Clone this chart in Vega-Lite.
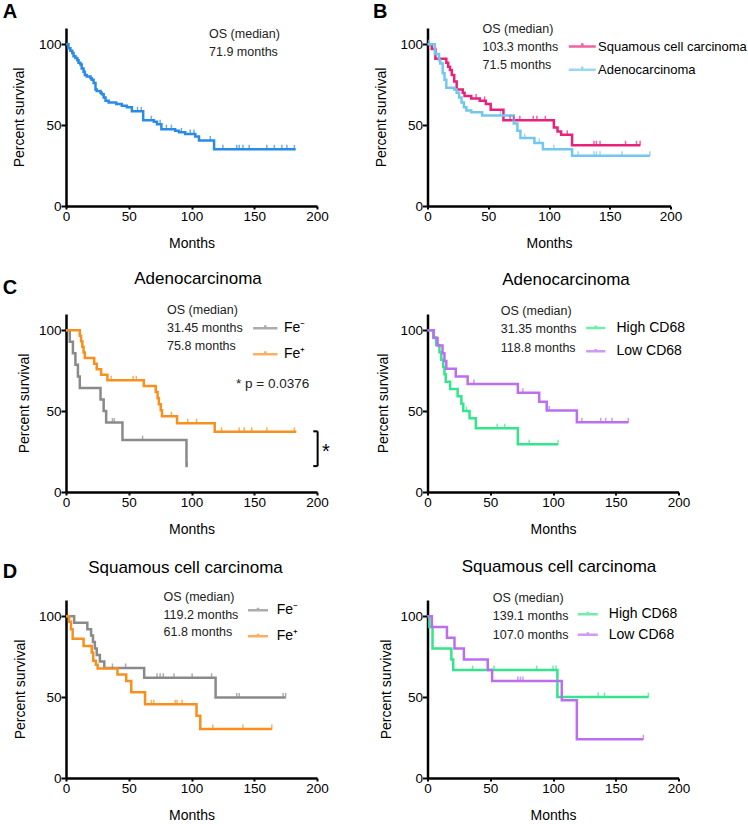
{
  "$schema": "https://vega.github.io/schema/vega-lite/v6.json",
  "background": "white",
  "padding": {"left": 2, "top": 2, "right": 2, "bottom": 2},
  "columns": 2,
  "spacing": {"row": 108, "column": 110.5},
  "bounds": "flush",
  "resolve": {"scale": {"color": "independent", "x": "independent", "y": "independent"}, "legend": {"color": "independent"}},
  "datasets": {
    "a_line": [
      {"m":0,"s":100},{"m":2,"s":97.5},{"m":3.5,"s":96},{"m":5,"s":94.5},{"m":6,"s":92.5},{"m":7.5,"s":91.5},{"m":9,"s":90},{"m":10,"s":88.5},{"m":11.5,"s":87.5},{"m":12.5,"s":85},{"m":14,"s":83},{"m":15,"s":81},{"m":16.5,"s":80},{"m":19.5,"s":79},{"m":20.5,"s":78},{"m":22,"s":76},{"m":23.5,"s":72},{"m":24.5,"s":71},{"m":27.5,"s":70},{"m":28.5,"s":69},{"m":30,"s":67},{"m":31.5,"s":65},{"m":34,"s":64},{"m":40,"s":63},{"m":44.5,"s":62},{"m":48.5,"s":61},{"m":52.5,"s":58.5},{"m":61.5,"s":53},{"m":70,"s":52},{"m":72.5,"s":50.5},{"m":76,"s":47.5},{"m":87,"s":46.5},{"m":90,"s":45.5},{"m":95,"s":44.5},{"m":103,"s":43},{"m":106,"s":40.5},{"m":118,"s":35},{"m":183,"s":35}
    ],
    "a_cens": [
      {"m":57,"s":58.5},{"m":60,"s":58.5},{"m":68,"s":53},{"m":75,"s":50.5},{"m":80,"s":47.5},{"m":84,"s":47.5},{"m":92,"s":45.5},{"m":99,"s":44.5},{"m":102,"s":44.5},{"m":115,"s":40.5},{"m":125,"s":35},{"m":136,"s":35},{"m":138,"s":35},{"m":141,"s":35},{"m":146,"s":35},{"m":160,"s":35},{"m":166,"s":35},{"m":172,"s":35},{"m":176,"s":35},{"m":182,"s":35}
    ],
    "b_line": [
      {"g":"Squamous cell carcinoma","m":0,"s":100},{"g":"Squamous cell carcinoma","m":3.5,"s":97},{"g":"Squamous cell carcinoma","m":6.5,"s":91},{"g":"Squamous cell carcinoma","m":15.5,"s":88.5},{"g":"Squamous cell carcinoma","m":17,"s":86},{"g":"Squamous cell carcinoma","m":18.5,"s":84},{"g":"Squamous cell carcinoma","m":20,"s":81},{"g":"Squamous cell carcinoma","m":22,"s":77},{"g":"Squamous cell carcinoma","m":24,"s":72},{"g":"Squamous cell carcinoma","m":29,"s":70},{"g":"Squamous cell carcinoma","m":30.5,"s":68},{"g":"Squamous cell carcinoma","m":36,"s":66.5},{"g":"Squamous cell carcinoma","m":43,"s":65},{"g":"Squamous cell carcinoma","m":48,"s":63},{"g":"Squamous cell carcinoma","m":52,"s":59.5},{"g":"Squamous cell carcinoma","m":62.5,"s":53},{"g":"Squamous cell carcinoma","m":104,"s":48.5},{"g":"Squamous cell carcinoma","m":107,"s":46},{"g":"Squamous cell carcinoma","m":110,"s":44},{"g":"Squamous cell carcinoma","m":119,"s":37.5},{"g":"Squamous cell carcinoma","m":175,"s":37.5},
      {"g":"Adenocarcinoma","m":0,"s":100},{"g":"Adenocarcinoma","m":6,"s":94},{"g":"Adenocarcinoma","m":9.5,"s":90},{"g":"Adenocarcinoma","m":10.5,"s":88},{"g":"Adenocarcinoma","m":12.5,"s":82},{"g":"Adenocarcinoma","m":14,"s":78},{"g":"Adenocarcinoma","m":15.5,"s":73},{"g":"Adenocarcinoma","m":22,"s":72},{"g":"Adenocarcinoma","m":24,"s":70},{"g":"Adenocarcinoma","m":26,"s":67},{"g":"Adenocarcinoma","m":28,"s":64},{"g":"Adenocarcinoma","m":30,"s":61},{"g":"Adenocarcinoma","m":32,"s":59},{"g":"Adenocarcinoma","m":36,"s":58},{"g":"Adenocarcinoma","m":45,"s":56},{"g":"Adenocarcinoma","m":71,"s":51},{"g":"Adenocarcinoma","m":74,"s":46.5},{"g":"Adenocarcinoma","m":76.5,"s":42},{"g":"Adenocarcinoma","m":88,"s":39},{"g":"Adenocarcinoma","m":95,"s":35},{"g":"Adenocarcinoma","m":119,"s":31},{"g":"Adenocarcinoma","m":183,"s":31}
    ],
    "b_cens": [
      {"g":"Squamous cell carcinoma","m":40,"s":66.5},{"g":"Squamous cell carcinoma","m":47,"s":65},{"g":"Squamous cell carcinoma","m":68,"s":53},{"g":"Squamous cell carcinoma","m":71,"s":53},{"g":"Squamous cell carcinoma","m":76,"s":53},{"g":"Squamous cell carcinoma","m":87,"s":53},{"g":"Squamous cell carcinoma","m":90,"s":53},{"g":"Squamous cell carcinoma","m":97,"s":53},{"g":"Squamous cell carcinoma","m":115,"s":44},{"g":"Squamous cell carcinoma","m":137,"s":37.5},{"g":"Squamous cell carcinoma","m":139,"s":37.5},{"g":"Squamous cell carcinoma","m":142,"s":37.5},{"g":"Squamous cell carcinoma","m":163,"s":37.5},{"g":"Squamous cell carcinoma","m":172,"s":37.5},{"g":"Squamous cell carcinoma","m":175,"s":37.5},
      {"g":"Adenocarcinoma","m":1,"s":100},{"g":"Adenocarcinoma","m":60,"s":56},{"g":"Adenocarcinoma","m":80,"s":42},{"g":"Adenocarcinoma","m":92,"s":39},{"g":"Adenocarcinoma","m":104,"s":35},{"g":"Adenocarcinoma","m":124,"s":31},{"g":"Adenocarcinoma","m":137,"s":31},{"g":"Adenocarcinoma","m":139,"s":31},{"g":"Adenocarcinoma","m":142,"s":31},{"g":"Adenocarcinoma","m":160,"s":31},{"g":"Adenocarcinoma","m":183,"s":31}
    ],
    "cl_line": [
      {"g":"Fe⁻","m":0,"s":100},{"g":"Fe⁻","m":3,"s":92.9},{"g":"Fe⁻","m":5.5,"s":85.7},{"g":"Fe⁻","m":7.5,"s":78.6},{"g":"Fe⁻","m":9.5,"s":71.4},{"g":"Fe⁻","m":11,"s":64.3},{"g":"Fe⁻","m":27.5,"s":57.1},{"g":"Fe⁻","m":30,"s":50},{"g":"Fe⁻","m":32,"s":42.9},{"g":"Fe⁻","m":45,"s":32.1},{"g":"Fe⁻","m":96,"s":16},{"g":"Fe⁻","m":97,"s":16},
      {"g":"Fe⁺","m":0,"s":100},{"g":"Fe⁺","m":11,"s":96.6},{"g":"Fe⁺","m":12,"s":93.1},{"g":"Fe⁺","m":13,"s":89.7},{"g":"Fe⁺","m":14,"s":86.2},{"g":"Fe⁺","m":15,"s":82.8},{"g":"Fe⁺","m":22.5,"s":79.3},{"g":"Fe⁺","m":24.5,"s":75.9},{"g":"Fe⁺","m":28,"s":72.4},{"g":"Fe⁺","m":33,"s":69},{"g":"Fe⁺","m":62,"s":65.5},{"g":"Fe⁺","m":71.5,"s":61.8},{"g":"Fe⁺","m":73,"s":58},{"g":"Fe⁺","m":74,"s":54.3},{"g":"Fe⁺","m":75.5,"s":50.5},{"g":"Fe⁺","m":76.5,"s":46.8},{"g":"Fe⁺","m":88.5,"s":42.5},{"g":"Fe⁺","m":118.5,"s":37.2},{"g":"Fe⁺","m":183.5,"s":37.2}
    ],
    "cl_cens": [
      {"g":"Fe⁻","m":37,"s":42.9},{"g":"Fe⁻","m":38.5,"s":42.9},{"g":"Fe⁻","m":61,"s":32.1},{"g":"Fe⁻","m":96.5,"s":16},
      {"g":"Fe⁺","m":36,"s":69},{"g":"Fe⁺","m":53.5,"s":69},{"g":"Fe⁺","m":56,"s":69},{"g":"Fe⁺","m":84,"s":46.8},{"g":"Fe⁺","m":97,"s":42.5},{"g":"Fe⁺","m":104,"s":42.5},{"g":"Fe⁺","m":124,"s":37.2},{"g":"Fe⁺","m":138,"s":37.2},{"g":"Fe⁺","m":142,"s":37.2},{"g":"Fe⁺","m":148,"s":37.2},{"g":"Fe⁺","m":160,"s":37.2},{"g":"Fe⁺","m":182,"s":37.2}
    ],
    "cr_line": [
      {"g":"High CD68","m":0,"s":100},{"g":"High CD68","m":4.5,"s":95.5},{"g":"High CD68","m":7,"s":90.9},{"g":"High CD68","m":9.5,"s":86.4},{"g":"High CD68","m":11,"s":81.8},{"g":"High CD68","m":12.5,"s":77.3},{"g":"High CD68","m":13.5,"s":72.7},{"g":"High CD68","m":14.5,"s":68.2},{"g":"High CD68","m":18,"s":63.6},{"g":"High CD68","m":24,"s":59.1},{"g":"High CD68","m":27,"s":54.5},{"g":"High CD68","m":28.5,"s":50},{"g":"High CD68","m":33.5,"s":45.5},{"g":"High CD68","m":38.5,"s":39.4},{"g":"High CD68","m":72,"s":29.5},{"g":"High CD68","m":104,"s":29.5},
      {"g":"Low CD68","m":0,"s":100},{"g":"Low CD68","m":5,"s":95.2},{"g":"Low CD68","m":8,"s":90.5},{"g":"Low CD68","m":12,"s":85.7},{"g":"Low CD68","m":13.5,"s":81},{"g":"Low CD68","m":15,"s":76.2},{"g":"Low CD68","m":22.5,"s":71.4},{"g":"Low CD68","m":32,"s":66.7},{"g":"Low CD68","m":72,"s":61.3},{"g":"Low CD68","m":89,"s":55.8},{"g":"Low CD68","m":95,"s":50.3},{"g":"Low CD68","m":119,"s":43.1},{"g":"Low CD68","m":160,"s":43.1}
    ],
    "cr_cens": [
      {"g":"High CD68","m":31,"s":50},{"g":"High CD68","m":55.5,"s":39.4},{"g":"High CD68","m":61.5,"s":39.4},{"g":"High CD68","m":81,"s":29.5},{"g":"High CD68","m":104,"s":29.5},
      {"g":"Low CD68","m":37,"s":66.7},{"g":"Low CD68","m":76,"s":61.3},{"g":"Low CD68","m":97,"s":50.3},{"g":"Low CD68","m":123,"s":43.1},{"g":"Low CD68","m":138,"s":43.1},{"g":"Low CD68","m":142,"s":43.1},{"g":"Low CD68","m":147,"s":43.1},{"g":"Low CD68","m":160,"s":43.1}
    ],
    "dl_line": [
      {"g":"Fe⁻","m":0,"s":100},{"g":"Fe⁻","m":6.5,"s":96},{"g":"Fe⁻","m":17,"s":92},{"g":"Fe⁻","m":20,"s":88},{"g":"Fe⁻","m":21.5,"s":84},{"g":"Fe⁻","m":23,"s":80},{"g":"Fe⁻","m":24.5,"s":76},{"g":"Fe⁻","m":27,"s":72},{"g":"Fe⁻","m":30.5,"s":68},{"g":"Fe⁻","m":62.3,"s":62},{"g":"Fe⁻","m":119.2,"s":49.8},{"g":"Fe⁻","m":175,"s":49.8},
      {"g":"Fe⁺","m":0,"s":100},{"g":"Fe⁺","m":2.5,"s":96.5},{"g":"Fe⁺","m":4,"s":92},{"g":"Fe⁺","m":5.3,"s":86},{"g":"Fe⁺","m":14,"s":81.5},{"g":"Fe⁺","m":20.5,"s":77.5},{"g":"Fe⁺","m":21.7,"s":72.5},{"g":"Fe⁺","m":23.8,"s":70},{"g":"Fe⁺","m":25.2,"s":67.6},{"g":"Fe⁺","m":41,"s":64},{"g":"Fe⁺","m":48,"s":60},{"g":"Fe⁺","m":52,"s":53},{"g":"Fe⁺","m":63,"s":45.5},{"g":"Fe⁺","m":104,"s":38.5},{"g":"Fe⁺","m":107,"s":30.3},{"g":"Fe⁺","m":164,"s":30.3}
    ],
    "dl_cens": [
      {"g":"Fe⁻","m":37,"s":68},{"g":"Fe⁻","m":47.5,"s":68},{"g":"Fe⁻","m":72.5,"s":62},{"g":"Fe⁻","m":75,"s":62},{"g":"Fe⁻","m":77.5,"s":62},{"g":"Fe⁻","m":86,"s":62},{"g":"Fe⁻","m":100.5,"s":62},{"g":"Fe⁻","m":116,"s":62},{"g":"Fe⁻","m":136,"s":49.8},{"g":"Fe⁻","m":138,"s":49.8},{"g":"Fe⁻","m":173,"s":49.8},{"g":"Fe⁻","m":175,"s":49.8},
      {"g":"Fe⁺","m":68,"s":45.5},{"g":"Fe⁺","m":70,"s":45.5},{"g":"Fe⁺","m":87,"s":45.5},{"g":"Fe⁺","m":88.5,"s":45.5},{"g":"Fe⁺","m":92.5,"s":45.5},{"g":"Fe⁺","m":117,"s":30.3},{"g":"Fe⁺","m":141,"s":30.3},{"g":"Fe⁺","m":164,"s":30.3}
    ],
    "dr_line": [
      {"g":"High CD68","m":0,"s":100},{"g":"High CD68","m":1.5,"s":93.3},{"g":"High CD68","m":4,"s":80},{"g":"High CD68","m":19,"s":73.3},{"g":"High CD68","m":20.5,"s":66.7},{"g":"High CD68","m":103.5,"s":50},{"g":"High CD68","m":176,"s":50},
      {"g":"Low CD68","m":0,"s":100},{"g":"Low CD68","m":3.5,"s":93.3},{"g":"Low CD68","m":15.5,"s":86.7},{"g":"Low CD68","m":21.5,"s":80},{"g":"Low CD68","m":29,"s":73.3},{"g":"Low CD68","m":48,"s":66.7},{"g":"Low CD68","m":51.5,"s":60},{"g":"Low CD68","m":107,"s":48},{"g":"Low CD68","m":119,"s":24},{"g":"Low CD68","m":172,"s":24}
    ],
    "dr_cens": [
      {"g":"High CD68","m":36,"s":66.7},{"g":"High CD68","m":53,"s":66.7},{"g":"High CD68","m":87,"s":66.7},{"g":"High CD68","m":100,"s":66.7},{"g":"High CD68","m":102.5,"s":66.7},{"g":"High CD68","m":136,"s":50},{"g":"High CD68","m":141,"s":50},{"g":"High CD68","m":176,"s":50},
      {"g":"Low CD68","m":72,"s":60},{"g":"Low CD68","m":74,"s":60},{"g":"Low CD68","m":76,"s":60},{"g":"Low CD68","m":172,"s":24}
    ],
    "notes": [
      {"p":"A","m":114,"s":103.6,"t":"OS (median)"},{"p":"A","m":114,"s":92.8,"t":"71.9 months"},
      {"p":"B","m":45.3,"s":106.9,"t":"OS (median)"},{"p":"B","m":45.3,"s":95.8,"t":"103.3 months"},{"p":"B","m":45.3,"s":84.9,"t":"71.5 months"},
      {"p":"CL","m":80.5,"s":110.2,"t":"OS (median)"},{"p":"CL","m":80.5,"s":99,"t":"31.45 months"},{"p":"CL","m":80.5,"s":87.7,"t":"75.8 months"},
      {"p":"CR","m":58.4,"s":109.6,"t":"OS (median)"},{"p":"CR","m":58.4,"s":98,"t":"31.35 months"},{"p":"CR","m":58.4,"s":86.7,"t":"118.8 months"},
      {"p":"DL","m":77.7,"s":109.6,"t":"OS (median)"},{"p":"DL","m":77.7,"s":98.5,"t":"119.2 months"},{"p":"DL","m":77.7,"s":87.7,"t":"61.8 months"},
      {"p":"DR","m":52,"s":108.8,"t":"OS (median)"},{"p":"DR","m":52,"s":97.5,"t":"139.1 months"},{"p":"DR","m":52,"s":86.2,"t":"107.0 months"}
    ],
    "pval": [{"m":135.5,"s":64,"t":"* p = 0.0376"}],
    "star": [{"m":207,"s":21,"t":"*"}],
    "bracket": [
      {"m":200.5,"s":16,"m2":200.5,"s2":37.5},
      {"m":197,"s":37.5,"m2":200.5,"s2":37.5},
      {"m":197,"s":16,"m2":200.5,"s2":16}
    ],
    "letters": [
      {"p":"A","m":-50.4,"s":125.8,"t":"A"},
      {"p":"B","m":-44.9,"s":125.8,"t":"B"},
      {"p":"CL","m":-50.4,"s":132.4,"t":"C"},
      {"p":"DL","m":-50.4,"s":133.5,"t":"D"}
    ]
  },
  "concat": [
    {
      "width": 251, "height": 178,
      "layer": [
        {"data": {"name": "a_line"}, "mark": {"type": "line", "interpolate": "step-after", "strokeWidth": 2.5, "color": "#2a8be6"},
         "encoding": {
           "x": {"field": "m", "type": "quantitative", "scale": {"domain": [0, 200], "nice": false}, "axis": {"values": [0, 50, 100, 150, 200], "title": "Months", "labelFlush": false}},
           "y": {"field": "s", "type": "quantitative", "scale": {"domain": [0, 110], "nice": false}, "axis": {"values": [0, 50, 100], "title": "Percent survival", "titlePadding": 12}}
         }},
        {"data": {"name": "a_cens"}, "mark": {"type": "tick", "orient": "vertical", "size": 5, "thickness": 1.5, "yOffset": -2, "color": "#2a8be6"},
         "encoding": {"x": {"field": "m", "type": "quantitative"}, "y": {"field": "s", "type": "quantitative"}}},
        {"data": {"name": "notes"}, "transform": [{"filter": "datum.p === 'A'"}], "mark": {"type": "text", "align": "left", "baseline": "alphabetic", "fontSize": 12.5, "color": "#222"},
         "encoding": {"x": {"field": "m", "type": "quantitative"}, "y": {"field": "s", "type": "quantitative"}, "text": {"field": "t"}}},
        {"data": {"name": "letters"}, "transform": [{"filter": "datum.p === 'A'"}], "mark": {"type": "text", "align": "left", "baseline": "top", "fontSize": 20, "fontWeight": "bold", "color": "#000"},
         "encoding": {"x": {"field": "m", "type": "quantitative"}, "y": {"field": "s", "type": "quantitative"}, "text": {"field": "t"}}}
      ]
    },
    {
      "width": 243, "height": 178,
      "layer": [
        {"data": {"name": "b_line"}, "mark": {"type": "line", "interpolate": "step-after", "strokeWidth": 2.5},
         "encoding": {
           "x": {"field": "m", "type": "quantitative", "scale": {"domain": [0, 200], "nice": false}, "axis": {"values": [0, 50, 100, 150, 200], "title": "Months", "labelFlush": false}},
           "y": {"field": "s", "type": "quantitative", "scale": {"domain": [0, 110], "nice": false}, "axis": {"values": [0, 50, 100], "title": "Percent survival", "titlePadding": 11}},
           "color": {"field": "g", "type": "nominal", "scale": {"domain": ["Squamous cell carcinoma", "Adenocarcinoma"], "range": ["#e8227a", "#72c7ee"]},
             "legend": {"title": null, "orient": "none", "legendX": 146.75, "legendY": 10.5, "symbolType": "M-2,0H2M0,0V-0.5", "symbolSize": 182, "symbolStrokeWidth": 2.5, "labelOffset": 7.75, "rowPadding": 7.3, "labelFontSize": 13}}
         }},
        {"data": {"name": "b_cens"}, "mark": {"type": "tick", "orient": "vertical", "size": 5, "thickness": 1.5, "yOffset": -2},
         "encoding": {"x": {"field": "m", "type": "quantitative"}, "y": {"field": "s", "type": "quantitative"}, "color": {"field": "g", "type": "nominal"}}},
        {"data": {"name": "notes"}, "transform": [{"filter": "datum.p === 'B'"}], "mark": {"type": "text", "align": "left", "baseline": "alphabetic", "fontSize": 12.5, "color": "#222"},
         "encoding": {"x": {"field": "m", "type": "quantitative"}, "y": {"field": "s", "type": "quantitative"}, "text": {"field": "t"}}},
        {"data": {"name": "letters"}, "transform": [{"filter": "datum.p === 'B'"}], "mark": {"type": "text", "align": "left", "baseline": "top", "fontSize": 20, "fontWeight": "bold", "color": "#000"},
         "encoding": {"x": {"field": "m", "type": "quantitative"}, "y": {"field": "s", "type": "quantitative"}, "text": {"field": "t"}}}
      ]
    },
    {
      "width": 251, "height": 178,
      "title": {"text": "Adenocarcinoma", "dx": 6.5, "offset": -10},
      "layer": [
        {"data": {"name": "cl_line"}, "mark": {"type": "line", "interpolate": "step-after", "strokeWidth": 2.5},
         "encoding": {
           "x": {"field": "m", "type": "quantitative", "scale": {"domain": [0, 200], "nice": false}, "axis": {"values": [0, 50, 100, 150, 200], "title": "Months", "labelFlush": false}},
           "y": {"field": "s", "type": "quantitative", "scale": {"domain": [0, 110], "nice": false}, "axis": {"values": [0, 50, 100], "title": "Percent survival", "titlePadding": 6.5}},
           "color": {"field": "g", "type": "nominal", "scale": {"domain": ["Fe⁻", "Fe⁺"], "range": ["#8a8a8a", "#f7901e"]},
             "legend": {"title": null, "orient": "none", "legendX": 191.8, "legendY": 6.7, "symbolType": "M-2,0H2M0,0V-0.5", "symbolSize": 148, "symbolStrokeWidth": 2.5, "labelOffset": 11.1, "rowPadding": 10}}
         }},
        {"data": {"name": "cl_cens"}, "mark": {"type": "tick", "orient": "vertical", "size": 5, "thickness": 1.5, "yOffset": -2},
         "encoding": {"x": {"field": "m", "type": "quantitative"}, "y": {"field": "s", "type": "quantitative"}, "color": {"field": "g", "type": "nominal"}}},
        {"data": {"name": "notes"}, "transform": [{"filter": "datum.p === 'CL'"}], "mark": {"type": "text", "align": "left", "baseline": "alphabetic", "fontSize": 12.5, "color": "#222"},
         "encoding": {"x": {"field": "m", "type": "quantitative"}, "y": {"field": "s", "type": "quantitative"}, "text": {"field": "t"}}},
        {"data": {"name": "pval"}, "mark": {"type": "text", "align": "left", "baseline": "alphabetic", "fontSize": 13.5, "color": "#222"},
         "encoding": {"x": {"field": "m", "type": "quantitative"}, "y": {"field": "s", "type": "quantitative"}, "text": {"field": "t"}}},
        {"data": {"name": "star"}, "mark": {"type": "text", "align": "center", "baseline": "alphabetic", "fontSize": 20, "color": "#000"},
         "encoding": {"x": {"field": "m", "type": "quantitative"}, "y": {"field": "s", "type": "quantitative"}, "text": {"field": "t"}}},
        {"data": {"name": "bracket"}, "mark": {"type": "rule", "strokeWidth": 2, "color": "#000"},
         "encoding": {"x": {"field": "m", "type": "quantitative"}, "y": {"field": "s", "type": "quantitative"}, "x2": {"field": "m2"}, "y2": {"field": "s2"}}},
        {"data": {"name": "letters"}, "transform": [{"filter": "datum.p === 'CL'"}], "mark": {"type": "text", "align": "left", "baseline": "top", "fontSize": 20, "fontWeight": "bold", "color": "#000"},
         "encoding": {"x": {"field": "m", "type": "quantitative"}, "y": {"field": "s", "type": "quantitative"}, "text": {"field": "t"}}}
      ]
    },
    {
      "width": 251, "height": 178,
      "title": {"text": "Adenocarcinoma", "dx": 13, "offset": 16},
      "layer": [
        {"data": {"name": "cr_line"}, "mark": {"type": "line", "interpolate": "step-after", "strokeWidth": 2.5},
         "encoding": {
           "x": {"field": "m", "type": "quantitative", "scale": {"domain": [0, 200], "nice": false}, "axis": {"values": [0, 50, 100, 150, 200], "title": "Months", "labelFlush": false}},
           "y": {"field": "s", "type": "quantitative", "scale": {"domain": [0, 110], "nice": false}, "axis": {"values": [0, 50, 100], "title": "Percent survival", "titlePadding": 9.5}},
           "color": {"field": "g", "type": "nominal", "scale": {"domain": ["High CD68", "Low CD68"], "range": ["#35e58b", "#bb6ef0"]},
             "legend": {"title": null, "orient": "none", "legendX": 161.2, "legendY": 7, "symbolType": "M-2,0H2M0,0V-0.5", "symbolSize": 92, "symbolStrokeWidth": 2.5, "labelOffset": 13.8, "rowPadding": 8.3}}
         }},
        {"data": {"name": "cr_cens"}, "mark": {"type": "tick", "orient": "vertical", "size": 5, "thickness": 1.5, "yOffset": -2},
         "encoding": {"x": {"field": "m", "type": "quantitative"}, "y": {"field": "s", "type": "quantitative"}, "color": {"field": "g", "type": "nominal"}}},
        {"data": {"name": "notes"}, "transform": [{"filter": "datum.p === 'CR'"}], "mark": {"type": "text", "align": "left", "baseline": "alphabetic", "fontSize": 12.5, "color": "#222"},
         "encoding": {"x": {"field": "m", "type": "quantitative"}, "y": {"field": "s", "type": "quantitative"}, "text": {"field": "t"}}}
      ]
    },
    {
      "width": 251, "height": 178,
      "title": {"text": "Squamous cell carcinoma", "dx": -6, "offset": -15},
      "layer": [
        {"data": {"name": "dl_line"}, "mark": {"type": "line", "interpolate": "step-after", "strokeWidth": 2.5},
         "encoding": {
           "x": {"field": "m", "type": "quantitative", "scale": {"domain": [0, 200], "nice": false}, "axis": {"values": [0, 50, 100, 150, 200], "title": "Months", "labelFlush": false}},
           "y": {"field": "s", "type": "quantitative", "scale": {"domain": [0, 110], "nice": false}, "axis": {"values": [0, 50, 100], "title": "Percent survival", "titlePadding": 10.5}},
           "color": {"field": "g", "type": "nominal", "scale": {"domain": ["Fe⁻", "Fe⁺"], "range": ["#8a8a8a", "#f7901e"]},
             "legend": {"title": null, "orient": "none", "legendX": 185, "legendY": 3.3, "symbolType": "M-2,0H2M0,0V-0.5", "symbolSize": 100, "symbolStrokeWidth": 2.5, "labelOffset": 11.7, "rowPadding": 11}}
         }},
        {"data": {"name": "dl_cens"}, "mark": {"type": "tick", "orient": "vertical", "size": 5, "thickness": 1.5, "yOffset": -2},
         "encoding": {"x": {"field": "m", "type": "quantitative"}, "y": {"field": "s", "type": "quantitative"}, "color": {"field": "g", "type": "nominal"}}},
        {"data": {"name": "notes"}, "transform": [{"filter": "datum.p === 'DL'"}], "mark": {"type": "text", "align": "left", "baseline": "alphabetic", "fontSize": 12.5, "color": "#222"},
         "encoding": {"x": {"field": "m", "type": "quantitative"}, "y": {"field": "s", "type": "quantitative"}, "text": {"field": "t"}}},
        {"data": {"name": "letters"}, "transform": [{"filter": "datum.p === 'DL'"}], "mark": {"type": "text", "align": "left", "baseline": "top", "fontSize": 20, "fontWeight": "bold", "color": "#000"},
         "encoding": {"x": {"field": "m", "type": "quantitative"}, "y": {"field": "s", "type": "quantitative"}, "text": {"field": "t"}}}
      ]
    },
    {
      "width": 251, "height": 178,
      "title": {"text": "Squamous cell carcinoma", "dx": 6, "offset": 16},
      "layer": [
        {"data": {"name": "dr_line"}, "mark": {"type": "line", "interpolate": "step-after", "strokeWidth": 2.5},
         "encoding": {
           "x": {"field": "m", "type": "quantitative", "scale": {"domain": [0, 200], "nice": false}, "axis": {"values": [0, 50, 100, 150, 200], "title": "Months", "labelFlush": false}},
           "y": {"field": "s", "type": "quantitative", "scale": {"domain": [0, 110], "nice": false}, "axis": {"values": [0, 50, 100], "title": "Percent survival", "titlePadding": 6.5}},
           "color": {"field": "g", "type": "nominal", "scale": {"domain": ["High CD68", "Low CD68"], "range": ["#35e58b", "#bb6ef0"]},
             "legend": {"title": null, "orient": "none", "legendX": 153.3, "legendY": 7.3, "symbolType": "M-2,0H2M0,0V-0.5", "symbolSize": 100, "symbolStrokeWidth": 2.5, "labelOffset": 14, "rowPadding": 5.5}}
         }},
        {"data": {"name": "dr_cens"}, "mark": {"type": "tick", "orient": "vertical", "size": 5, "thickness": 1.5, "yOffset": -2},
         "encoding": {"x": {"field": "m", "type": "quantitative"}, "y": {"field": "s", "type": "quantitative"}, "color": {"field": "g", "type": "nominal"}}},
        {"data": {"name": "notes"}, "transform": [{"filter": "datum.p === 'DR'"}], "mark": {"type": "text", "align": "left", "baseline": "alphabetic", "fontSize": 12.5, "color": "#222"},
         "encoding": {"x": {"field": "m", "type": "quantitative"}, "y": {"field": "s", "type": "quantitative"}, "text": {"field": "t"}}}
      ]
    }
  ],
  "config": {
    "font": "Liberation Sans",
    "view": {"stroke": null},
    "axis": {"grid": false, "domainColor": "#000", "domainWidth": 2.5, "tickColor": "#000", "tickWidth": 2, "tickSize": 5, "labelFont": "Liberation Sans", "labelFontSize": 13.5, "labelColor": "#000", "labelPadding": 0, "titleFont": "Liberation Sans", "titleFontSize": 14, "titleFontWeight": "normal", "titleColor": "#000"},
    "axisX": {"tickSize": 3, "titlePadding": 14},
    "title": {"font": "Liberation Sans", "fontSize": 17, "fontWeight": "normal", "color": "#000"},
    "legend": {"padding": 0, "labelFont": "Liberation Sans", "labelFontSize": 14, "labelColor": "#000"}
  }
}
